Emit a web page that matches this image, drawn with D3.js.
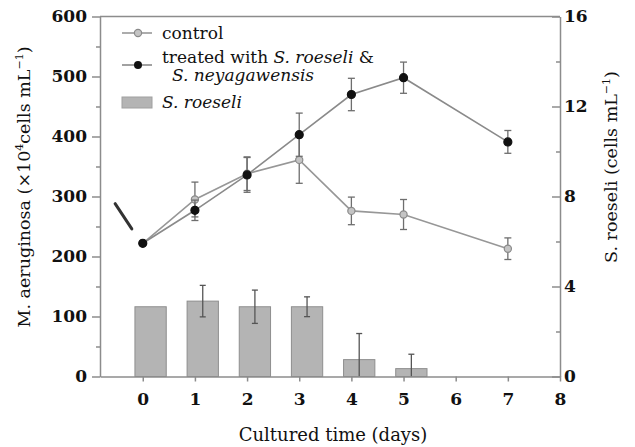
<!DOCTYPE html>
<html>
<head>
<meta charset="utf-8">
<script src="https://cdn.jsdelivr.net/npm/d3@7"></script>
<style>
  body { margin: 0; background: #fff; }
  svg { display: block; }
  text { font-family: "DejaVu Serif", "Liberation Serif", serif; fill: #111; }
  .tick text { font-weight: bold; font-size: 17px; }
  .domain, .tick line { stroke: #8c8c8c; stroke-width: 1.5; }
</style>
</head>
<body>
<svg width="635" height="447"></svg>
<script>
// values
var days = [0, 1, 2, 3, 4, 5, 7];
var control = [222, 295, 338, 361, 276, 270, 213];
var controlErr = [0, 29, 28, 39, 23, 25, 18];
var treated = [222, 277, 336, 403, 470, 498, 391];
var treatedErr = [0, 17, 29, 36, 27, 26, 19];

var barDays = [0, 1, 2, 3, 4, 5];
var roeseli = [3.1, 3.35, 3.1, 3.1, 0.75, 0.35];
var roeseliErr = [0, 0.7, 0.74, 0.44, 1.16, 0.64];

var xTicks = [0, 1, 2, 3, 4, 5, 6, 7, 8];
var leftTicks = [0, 100, 200, 300, 400, 500, 600];
var rightTicks = [0, 4, 8, 12, 16];

var svg = d3.select("svg");

var x = d3.scaleLinear().domain([-0.82, 8]).range([100, 560]);
var yL = d3.scaleLinear().domain([0, 600]).range([376.5, 16.5]);
var yR = d3.scaleLinear().domain([0, 16]).range([376.5, 16.5]);

var barShift = 0.15, barW = 0.6;

// frame top line
svg.append("line")
  .attr("x1", x.range()[0]).attr("x2", x.range()[1])
  .attr("y1", yL(600)).attr("y2", yL(600))
  .attr("stroke", "#8c8c8c").attr("stroke-width", 1.5);

// minor ticks
svg.append("g").attr("transform", "translate(100,0)")
  .call(d3.axisLeft(yL).tickValues(d3.range(50, 600, 100)).tickSize(4).tickFormat(""))
  .call(function (g) { g.select(".domain").remove(); });
svg.append("g").attr("transform", "translate(560,0)")
  .call(d3.axisRight(yR).tickValues([2, 6, 10, 14]).tickSize(-4).tickFormat(""))
  .call(function (g) { g.select(".domain").remove(); });

// bars (S. roeseli, right axis)
var bars = svg.append("g");
bars.selectAll("rect")
  .data(barDays)
  .enter().append("rect")
  .attr("x", function (d) { return x(d + barShift - barW / 2); })
  .attr("width", function () { return x(barW) - x(0); })
  .attr("y", function (d, i) { return yR(roeseli[i]); })
  .attr("height", function (d, i) { return yR(0) - yR(roeseli[i]); })
  .attr("fill", "#b4b4b4")
  .attr("stroke", "#8e8e8e")
  .attr("stroke-width", 1);

bars.selectAll("g.err")
  .data(barDays.filter(function (d, i) { return roeseliErr[i] > 0; }))
  .enter().append("g")
  .attr("class", "err")
  .each(function (d) {
    var i = barDays.indexOf(d);
    var cx = x(d + barShift);
    var hi = yR(roeseli[i] + roeseliErr[i]);
    var lo = yR(Math.max(0, roeseli[i] - roeseliErr[i]));
    var g = d3.select(this);
    g.append("line").attr("x1", cx).attr("x2", cx).attr("y1", hi).attr("y2", lo);
    g.append("line").attr("x1", cx - 3).attr("x2", cx + 3).attr("y1", hi).attr("y2", hi);
    if (roeseli[i] - roeseliErr[i] > 0)
      g.append("line").attr("x1", cx - 3).attr("x2", cx + 3).attr("y1", lo).attr("y2", lo);
  })
  .selectAll("line").attr("stroke", "#555").attr("stroke-width", 1.3);

// axes
svg.append("g").attr("transform", "translate(0,376.5)")
  .call(d3.axisBottom(x).tickValues(xTicks).tickSize(5).tickSizeOuter(0).tickPadding(11));
svg.append("g").attr("transform", "translate(100,0)")
  .call(d3.axisLeft(yL).tickValues(leftTicks).tickSize(8).tickSizeOuter(0).tickPadding(5));
svg.append("g").attr("transform", "translate(560,0)")
  .call(d3.axisRight(yR).tickValues(rightTicks).tickSize(-8).tickSizeOuter(0).tickPadding(4));

// error bars and lines
function drawSeries(vals, errs, lineColor, markerFill, markerStroke, r) {
  var g = svg.append("g");
  var pts = days.map(function (d, i) { return [d, vals[i], errs[i]]; });
  pts.filter(function (p) { return p[2] > 0; }).forEach(function (p) {
    var cx = x(p[0]), hi = yL(p[1] + p[2]), lo = yL(p[1] - p[2]);
    g.append("line").attr("x1", cx).attr("x2", cx).attr("y1", hi).attr("y2", lo);
    g.append("line").attr("x1", cx - 3.5).attr("x2", cx + 3.5).attr("y1", hi).attr("y2", hi);
    g.append("line").attr("x1", cx - 3.5).attr("x2", cx + 3.5).attr("y1", lo).attr("y2", lo);
  });
  g.selectAll("line").attr("stroke", "#6e6e6e").attr("stroke-width", 1.3);
  g.append("path")
    .datum(pts)
    .attr("fill", "none")
    .attr("stroke", lineColor)
    .attr("stroke-width", 1.6)
    .attr("d", d3.line().x(function (p) { return x(p[0]); }).y(function (p) { return yL(p[1]); }));
  g.selectAll("circle")
    .data(pts)
    .enter().append("circle")
    .attr("cx", function (p) { return x(p[0]); })
    .attr("cy", function (p) { return yL(p[1]); })
    .attr("r", r)
    .attr("fill", markerFill)
    .attr("stroke", markerStroke)
    .attr("stroke-width", 1.2);
}
drawSeries(control, controlErr, "#979797", "#c4c4c4", "#8a8a8a", 3.6);
drawSeries(treated, treatedErr, "#8a8a8a", "#111", "#111", 4);

// arrow pointing at the start point
svg.append("line")
  .attr("x1", x(-0.53)).attr("y1", yL(288))
  .attr("x2", x(-0.21)).attr("y2", yL(246))
  .attr("stroke", "#333").attr("stroke-width", 3).attr("stroke-linecap", "round");

// legend
var leg = svg.append("g");
leg.append("line").attr("x1", 122).attr("x2", 152).attr("y1", 33).attr("y2", 33)
  .attr("stroke", "#979797").attr("stroke-width", 1.6);
leg.append("circle").attr("cx", 138).attr("cy", 33).attr("r", 3.6)
  .attr("fill", "#c4c4c4").attr("stroke", "#8a8a8a").attr("stroke-width", 1.2);
leg.append("text").attr("x", 162).attr("y", 39).style("font-size", "17px").text("control");

leg.append("line").attr("x1", 122).attr("x2", 152).attr("y1", 65).attr("y2", 65)
  .attr("stroke", "#8a8a8a").attr("stroke-width", 1.6);
leg.append("circle").attr("cx", 138).attr("cy", 65).attr("r", 4).attr("fill", "#111");
var t1 = leg.append("text").attr("x", 162).attr("y", 63).style("font-size", "17px");
t1.append("tspan").text("treated with ");
t1.append("tspan").style("font-style", "italic").text("S. roeseli");
t1.append("tspan").text(" &");
leg.append("text").attr("x", 172).attr("y", 81).style("font-size", "17px")
  .style("font-style", "italic").text("S. neyagawensis");

leg.append("rect").attr("x", 122).attr("y", 97).attr("width", 30).attr("height", 11)
  .attr("fill", "#b4b4b4").attr("stroke", "#a0a0a0");
leg.append("text").attr("x", 162).attr("y", 108).style("font-size", "17px")
  .style("font-style", "italic").text("S. roeseli");

// axis titles
svg.append("text").attr("x", 333).attr("y", 441).attr("text-anchor", "middle")
  .style("font-size", "18px").text("Cultured time (days)");

var lt = svg.append("text")
  .attr("transform", "translate(30,187) rotate(-90)")
  .attr("text-anchor", "middle").style("font-size", "17.5px");
lt.append("tspan").text("M. aeruginosa (\u00d710");
lt.append("tspan").attr("dy", -7).style("font-size", "11px").text("4");
lt.append("tspan").attr("dy", 7).text("cells mL");
lt.append("tspan").attr("dy", -7).style("font-size", "11px").text("\u22121");
lt.append("tspan").attr("dy", 7).text(")");

var rt = svg.append("text")
  .attr("transform", "translate(617,167) rotate(-90)")
  .attr("text-anchor", "middle").style("font-size", "17.5px");
rt.append("tspan").text("S. roeseli (cells mL");
rt.append("tspan").attr("dy", -7).style("font-size", "11px").text("\u22121");
rt.append("tspan").attr("dy", 7).text(")");
</script>
</body>
</html>
